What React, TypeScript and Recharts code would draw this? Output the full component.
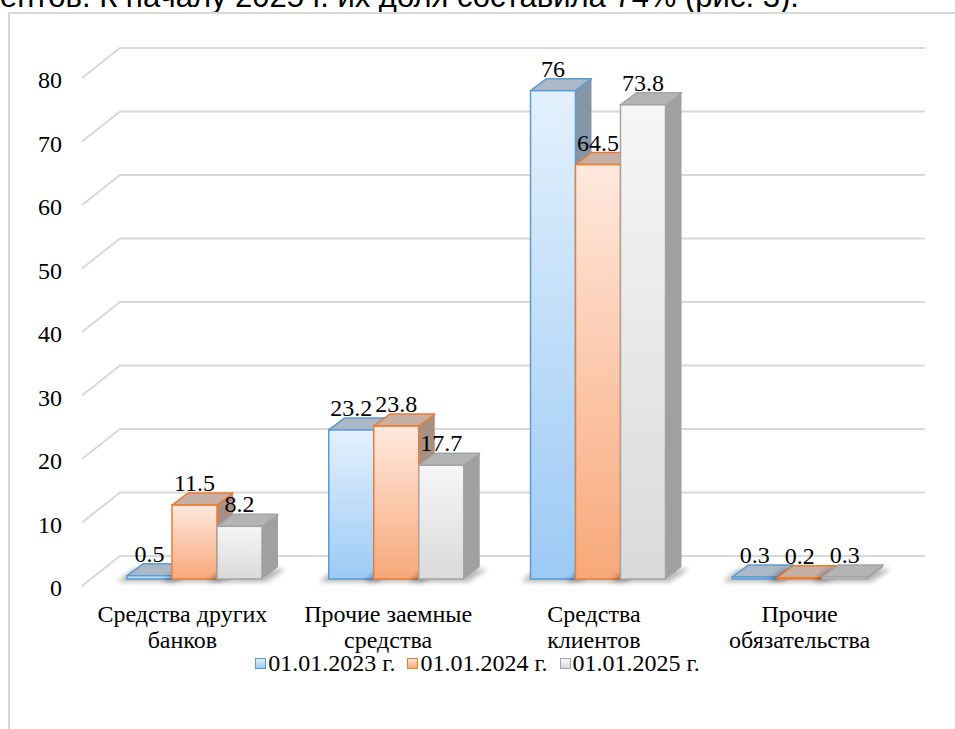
import { BarChart, Bar, XAxis, YAxis, CartesianGrid, Legend, LabelList } from 'recharts';

const categories = [
  'Средства других\nбанков',
  'Прочие заемные\nсредства',
  'Средства\nклиентов',
  'Прочие\nобязательства',
];
const s2023 = [0.5, 23.2, 76, 0.3];
const s2024 = [11.5, 23.8, 64.5, 0.2];
const s2025 = [8.2, 17.7, 73.8, 0.3];
const seriesNames = ['01.01.2023 г.', '01.01.2024 г.', '01.01.2025 г.'];
const yTicks = [0, 10, 20, 30, 40, 50, 60, 70, 80];

const data = categories.map((name, i) => ({ name, a: s2023[i], b: s2024[i], c: s2025[i] }));

const SERIF = "'Liberation Serif', 'Times New Roman', serif";
const FS = 24;
const W = 955;
const H = 729;
const M = { top: 65, right: 54.5, left: 33.5, bottom: 50 };
const PLOT_TOP = M.top;
const PLOT_BOTTOM = H - M.bottom - 100;
const PLOT_H = PLOT_BOTTOM - PLOT_TOP;

// depth of the 3D boxes
const DX = 16;
const DY = -12;

const STYLES = [
  { key: 'a', stroke: '#5b9bd5', light: '#e3f1fd', dark: '#9ccaf5', top: '#abb8c5', side: '#8595a5' },
  { key: 'b', stroke: '#ed7d31', light: '#fee9de', dark: '#f8a87a', top: '#c6afa5', side: '#a88f84' },
  { key: 'c', stroke: '#a5a5a5', light: '#f6f6f6', dark: '#dadada', top: '#b4b4b4', side: '#a0a0a0' },
];

function Box3D(props: any) {
  const { x, y, width: w, height: h, idx } = props;
  const st = STYLES[idx];
  const b = y + h;
  return (
    <g>
      <polygon
        points={`${x - 10},${b + 3} ${x + w + 4},${b + 3} ${x + w + DX + 8},${b + DY + 2} ${x + DX - 10},${b + DY + 2}`}
        fill="#000"
        opacity={0.28}
        filter="url(#soft)"
      />
      <polygon
        points={`${x + w},${y} ${x + w + DX},${y + DY} ${x + w + DX},${b + DY} ${x + w},${b}`}
        fill={st.side}
      />
      <polygon
        points={`${x},${y} ${x + DX},${y + DY} ${x + w + DX},${y + DY} ${x + w},${y}`}
        fill={st.top}
        stroke={st.stroke}
        strokeWidth={1.5}
        strokeLinejoin="round"
      />
      <rect x={x} y={y} width={w} height={h} fill={`url(#grad-${st.key})`} stroke={st.stroke} strokeWidth={1.5} />
    </g>
  );
}

const gridLine = (p: any) => {
  const y = p.y1;
  const frac = (PLOT_BOTTOM - y) / PLOT_H;
  const back = y - 23 + 6 * frac;
  const front = y + 7 + 6 * frac;
  return (
    <path
      key={p.key}
      d={`M${p.x1 - 11.5},${front}L${p.x1 + 26.5},${back}L${p.x2 + 24.5},${back}`}
      stroke="#d9d9d9"
      strokeWidth={2}
      fill="none"
    />
  );
};

const YTick = (p: any) => {
  const frac = (PLOT_BOTTOM - p.y) / PLOT_H;
  return (
    <text x={p.x - 31.5} y={p.y + 9 + 6 * frac + 8} textAnchor="end" fontFamily={SERIF} fontSize={FS} fill="#000">
      {p.payload.value}
    </text>
  );
};

const XTick = (p: any) => {
  const lines = String(p.payload.value).split('\n');
  const dx = -12 + p.index * 4;
  return (
    <text textAnchor="middle" fontFamily={SERIF} fontSize={FS} fill="#000">
      {lines.map((l, i) => (
        <tspan key={i} x={p.x + dx} y={p.y + 43 + i * 26}>
          {l}
        </tspan>
      ))}
    </text>
  );
};

const renderLegend = () => (
  <div style={{ display: 'flex', justifyContent: 'center', gap: 12, fontFamily: SERIF, fontSize: FS, lineHeight: '26px', color: '#000' }}>
    {seriesNames.map((n, i) => (
      <span key={n} style={{ display: 'flex', alignItems: 'center' }}>
        <span
          style={{
            width: 9,
            height: 9,
            border: `1px solid ${STYLES[i].stroke}`,
            background: `linear-gradient(${STYLES[i].light}, ${STYLES[i].dark})`,
            marginRight: 2,
          }}
        />
        {n}
      </span>
    ))}
  </div>
);

export default function App() {
  return (
    <div style={{ position: 'relative', width: W, height: H, overflow: 'hidden', background: '#fff' }}>
      <style>{`body{margin:0}`}</style>
      <div
        style={{
          position: 'absolute',
          left: 0,
          top: -19,
          whiteSpace: 'nowrap',
          fontFamily: "'Liberation Sans', Arial, sans-serif",
          fontSize: 31,
          lineHeight: '31px',
          color: '#000',
        }}
      >
        ентов. К началу 2025 г. их доля составила 74% (рис. 3).
      </div>
      <div
        style={{
          position: 'absolute',
          left: 8,
          top: 12,
          width: 1000,
          height: 800,
          border: '2px solid #d9d9d9',
        }}
      />
      <div style={{ position: 'absolute', left: 0, top: 0 }}>
        <BarChart width={W} height={H} data={data} margin={M} barCategoryGap="16.6%" barGap={0}>
          <defs>
            {STYLES.map((st) => (
              <linearGradient key={st.key} id={`grad-${st.key}`} x1="0" y1="0" x2="0" y2="1">
                <stop offset="0%" stopColor={st.light} />
                <stop offset="100%" stopColor={st.dark} />
              </linearGradient>
            ))}
            <filter id="soft" x="-50%" y="-200%" width="200%" height="500%">
              <feGaussianBlur stdDeviation="2.5" />
            </filter>
          </defs>
          <CartesianGrid vertical={false} horizontal={gridLine} />
          <XAxis dataKey="name" height={100} axisLine={false} tickLine={false} tickSize={0} tickMargin={0} tick={<XTick />} interval={0} />
          <YAxis
            width={60}
            domain={[0, 80]}
            ticks={yTicks}
            axisLine={false}
            tickLine={false}
            tickSize={0}
            tickMargin={0}
            tick={<YTick />}
          />
          <Legend layout="horizontal" verticalAlign="middle" align="center" wrapperStyle={{ top: 650, left: 0, width: W }} content={renderLegend} />
          {STYLES.map((st, i) => (
            <Bar key={st.key} dataKey={st.key} name={seriesNames[i]} fill={st.stroke} isAnimationActive={false} shape={(p: any) => <Box3D {...p} idx={i} />}>
              <LabelList dataKey={st.key} position="top" offset={14} fontFamily={SERIF} fontSize={FS} fill="#000" />
            </Bar>
          ))}
        </BarChart>
      </div>
    </div>
  );
}
